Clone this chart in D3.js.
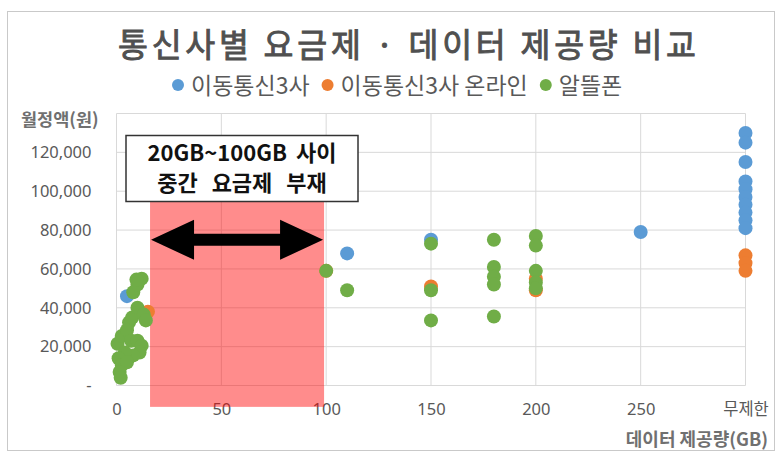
<!DOCTYPE html>
<html>
<head>
<meta charset="utf-8">
<script src="https://d3js.org/d3.v7.min.js"></script>
<style>
  body { margin: 0; background: #fff; }
  text { font-family: "Noto Sans CJK KR", "Noto Sans", sans-serif; }
</style>
</head>
<body>
<svg id="chart" width="780" height="466"></svg>
<script>
// series names and colours (Office palette)
var seriesNames = ["이동통신3사", "이동통신3사 온라인", "알뜰폰"];
var seriesColors = ["#5b9bd5", "#ed7d31", "#70ad47"];

// 이동통신3사  (300 = 무제한)
var mnoGB  = [5, 110, 150, 250, 300, 300, 300, 300, 300, 300, 300, 300, 300, 300];
var mnoFee = [46000, 68000, 75000, 79000, 130000, 125000, 115000, 105000, 101000, 97000, 93000, 89000, 85000, 81000];

// 이동통신3사 온라인
var onlineGB  = [15, 100, 150, 200, 200, 300, 300, 300];
var onlineFee = [38000, 59000, 51000, 55000, 49000, 67000, 63000, 59000];

// 알뜰폰
var mvnoGB  = [0.5, 2.5, 5, 7, 10, 12, 11, 8, 4, 1, 2.5, 5, 1.5, 2,
               6, 7.5, 10, 13, 14, 8, 10, 12, 9.5,
               100, 110, 150, 150, 150, 180, 180, 180, 180, 180,
               200, 200, 200, 200, 200];
var mvnoFee = [21500, 25500, 28500, 23000, 23000, 20500, 17000, 15500, 17000, 14000, 10500, 12000, 7000, 4000,
               32500, 35000, 40000, 36500, 33500, 48000, 52000, 55000, 54500,
               59000, 49000, 73000, 49000, 33500, 75000, 61000, 56000, 52000, 35500,
               77000, 72000, 59000, 53000, 50000];

var xTicks = [0, 50, 100, 150, 200, 250, 300];
var xTickLabels = ["0", "50", "100", "150", "200", "250", "무제한"];
var yTicks = [0, 20000, 40000, 60000, 80000, 100000, 120000];
var yTickLabels = ["-", "20,000", "40,000", "60,000", "80,000", "100,000", "120,000"];
var yGrid = [0, 20000, 40000, 60000, 80000, 100000, 120000, 140000];

// annotation: no plans between these sizes
var gapGB = [16, 99];
var gapFee = [-11000, 95000];
var arrowFee = 75000;
var noteLines = ["20GB~100GB 사이", "중간 요금제 부재"];

var svg = d3.select("#chart");

// outer frame
svg.append("rect")
    .attr("x", 7.5).attr("y", 11.5)
    .attr("width", 767).attr("height", 439)
    .attr("fill", "#fff")
    .attr("stroke", "#c9c9c9")
    .attr("stroke-width", 1);

var x = d3.scaleLinear().domain([0, 300]).range([116.5, 745.5]);
var y = d3.scaleLinear().domain([0, 140000]).range([385.5, 113.5]);

// gridlines
svg.append("g").selectAll("line").data(yGrid).enter().append("line")
    .attr("x1", x(0)).attr("x2", x(300))
    .attr("y1", function(d) { return y(d); })
    .attr("y2", function(d) { return y(d); })
    .attr("stroke", "#d9d9d9");
svg.append("g").selectAll("line").data(xTicks).enter().append("line")
    .attr("x1", function(d) { return x(d); })
    .attr("x2", function(d) { return x(d); })
    .attr("y1", y(0)).attr("y2", y(140000))
    .attr("stroke", "#d9d9d9");

// axes (labels only)
var yAxis = d3.axisLeft(y).tickValues(yTicks).tickSize(0).tickPadding(25)
    .tickFormat(function(d, i) { return yTickLabels[i]; });
var gy = svg.append("g").attr("transform", "translate(" + x(0) + ",0)").call(yAxis);
gy.select(".domain").remove();
gy.selectAll("text").attr("font-size", 16.5).attr("fill", "#595959")
    .style("font-family", "'Noto Sans', sans-serif");

var xAxis = d3.axisBottom(x).tickValues(xTicks).tickSize(0).tickPadding(18)
    .tickFormat(function(d, i) { return xTickLabels[i]; });
var gx = svg.append("g").attr("transform", "translate(0," + y(0) + ")").call(xAxis);
gx.select(".domain").remove();
gx.selectAll("text").attr("font-size", 16.5).attr("fill", "#595959")
    .style("font-family", "'Noto Sans', 'Noto Sans CJK KR', sans-serif");

// red gap region
svg.append("rect")
    .attr("x", x(gapGB[0]))
    .attr("y", y(gapFee[1]))
    .attr("width", x(gapGB[1]) - x(gapGB[0]))
    .attr("height", y(gapFee[0]) - y(gapFee[1]))
    .attr("fill", "#ff0000")
    .attr("fill-opacity", 0.45);

// points
function drawSeries(gb, fee, color) {
  svg.append("g").selectAll("circle").data(gb).enter().append("circle")
      .attr("cx", function(d) { return x(d); })
      .attr("cy", function(d, i) { return y(fee[i]); })
      .attr("r", 7)
      .attr("fill", color);
}
drawSeries(mnoGB, mnoFee, seriesColors[0]);
drawSeries(onlineGB, onlineFee, seriesColors[1]);
drawSeries(mvnoGB, mvnoFee, seriesColors[2]);

// double arrow
var ax0 = x(gapGB[0]) + 1, ax1 = x(gapGB[1]) - 1, ay = y(arrowFee);
var head = 43, hh = 20, sh = 6;
svg.append("path")
    .attr("d", "M" + ax0 + "," + ay +
               "L" + (ax0 + head) + "," + (ay - hh) +
               "L" + (ax0 + head) + "," + (ay - sh) +
               "L" + (ax1 - head) + "," + (ay - sh) +
               "L" + (ax1 - head) + "," + (ay - hh) +
               "L" + ax1 + "," + ay +
               "L" + (ax1 - head) + "," + (ay + hh) +
               "L" + (ax1 - head) + "," + (ay + sh) +
               "L" + (ax0 + head) + "," + (ay + sh) +
               "L" + (ax0 + head) + "," + (ay + hh) + "Z")
    .attr("fill", "#000");

// note box
svg.append("rect")
    .attr("x", 126).attr("y", 135.5)
    .attr("width", 232).attr("height", 66)
    .attr("fill", "#fff")
    .attr("stroke", "#333").attr("stroke-width", 1.5);
var noteWordGap = [4, 9];
svg.selectAll(".note").data(noteLines).enter().append("text")
    .attr("class", "note")
    .attr("x", 242)
    .attr("y", function(d, i) { return 161 + i * 30; })
    .attr("text-anchor", "middle")
    .attr("word-spacing", function(d, i) { return noteWordGap[i]; })
    .attr("font-size", 22).attr("font-weight", "bold").attr("fill", "#111")
    .text(function(d) { return d; });

// title
svg.append("text")
    .attr("x", 118).attr("y", 57)
    .attr("textLength", 578).attr("lengthAdjust", "spacing")
    .attr("font-size", 32.5).attr("fill", "#505050")
    .attr("stroke", "#505050").attr("stroke-width", 0.9)
    .text("통신사별 요금제 · 데이터 제공량 비교");

// legend, laid out left to right
var lx = 178;
seriesNames.forEach(function(name, i) {
  svg.append("circle").attr("cx", lx).attr("cy", 85).attr("r", 6)
      .attr("fill", seriesColors[i]);
  var t = svg.append("text")
      .attr("x", lx + 13).attr("y", 94)
      .attr("font-size", 23).attr("fill", "#595959")
      .text(name);
  lx += 13 + t.node().getComputedTextLength() + 18;
});

// axis titles
svg.append("text")
    .attr("x", 21).attr("y", 126)
    .attr("font-size", 17.5).attr("font-weight", "bold").attr("fill", "#707070")
    .text("월정액(원)");
svg.append("text")
    .attr("x", 768).attr("y", 446)
    .attr("text-anchor", "end")
    .attr("font-size", 18).attr("font-weight", "bold").attr("fill", "#707070")
    .text("데이터 제공량(GB)");
</script>
</body>
</html>
